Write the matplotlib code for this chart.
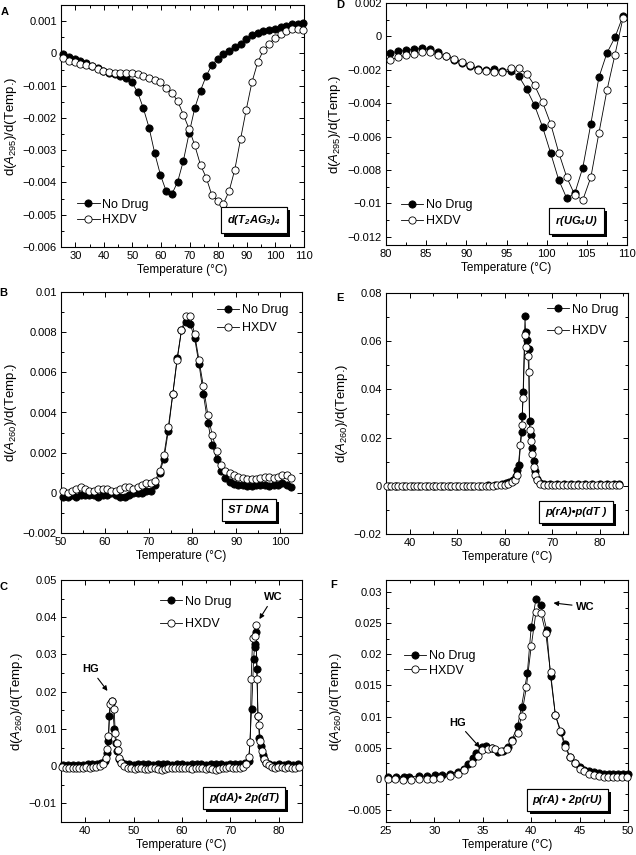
import numpy as np
import matplotlib
matplotlib.use("Agg")
import matplotlib.pyplot as plt
import matplotlib.patheffects as pe
from matplotlib.ticker import MultipleLocator, FuncFormatter

plt.rcParams['font.family'] = ['Liberation Sans', 'DejaVu Sans']
plt.rcParams['mathtext.fontset'] = 'custom'
plt.rcParams['mathtext.rm'] = 'Liberation Sans'
plt.rcParams['mathtext.it'] = 'Liberation Sans:italic'
plt.rcParams['mathtext.bf'] = 'Liberation Sans:bold'
plt.rcParams['mathtext.bfit'] = 'Liberation Sans:bold:italic'

# ---------------- panel A : d(T2AG3)4 ----------------
a_temp = [25.8, 27.8, 29.8, 31.8, 33.8, 35.8, 37.8, 39.8, 41.8, 43.8,
          45.8, 47.8, 49.8, 51.8, 53.8, 55.8, 57.8, 59.8, 61.8, 63.8,
          65.8, 67.8, 69.8, 71.8, 73.8, 75.8, 77.8, 79.8, 81.8, 83.8,
          85.8, 87.8, 89.8, 91.8, 93.8, 95.8, 97.8, 99.8, 101.8, 103.8,
          105.8, 107.8, 109.8]
a_nodrug = [-0.00002, -0.0001, -0.00018, -0.00025, -0.0003, -0.00038, -0.00046, -0.00054, -0.0006, -0.00065,
            -0.0007, -0.00077, -0.0009, -0.0012, -0.0017, -0.0023, -0.0031, -0.00377, -0.00427, -0.00436,
            -0.00398, -0.00333, -0.00248, -0.00169, -0.00115, -0.0007, -0.00035, -0.00018, -0.00003, 0.00008,
            0.00019, 0.0003, 0.00045, 0.00057, 0.00064, 0.00069, 0.00073, 0.00076, 0.00081, 0.00085,
            0.0009, 0.00092, 0.00094]
a_hxdv = [-0.00015, -0.00023, -0.00028, -0.00033, -0.00036, -0.0004, -0.00049, -0.00054, -0.00057, -0.0006,
          -0.0006, -0.0006, -0.0006, -0.00063, -0.0007, -0.00075, -0.00082, -0.0009, -0.00108, -0.00122,
          -0.00148, -0.0019, -0.00234, -0.00285, -0.00346, -0.00385, -0.0044, -0.00457, -0.00466, -0.00427,
          -0.0036, -0.00266, -0.00174, -0.00089, -0.00028, 0.0001, 0.0003, 0.00048, 0.0006, 0.00069,
          0.00075, 0.00075, 0.00073]

# ---------------- panel D : r(UG4U) ----------------
d_temp = [80.5, 81.5, 82.5, 83.5, 84.5, 85.5, 86.5, 87.5, 88.5, 89.5,
          90.5, 91.5, 92.5, 93.5, 94.5, 95.5, 96.5, 97.5, 98.5, 99.5,
          100.5, 101.5, 102.5, 103.5, 104.5, 105.5, 106.5, 107.5, 108.5, 109.5]
d_nodrug = [-0.001, -0.0009, -0.00084, -0.00076, -0.00072, -0.00078, -0.00096, -0.00116, -0.0014, -0.0016,
            -0.0018, -0.00196, -0.002, -0.00196, -0.0021, -0.0021, -0.00236, -0.00316, -0.00414, -0.00544,
            -0.007, -0.0086, -0.0097, -0.0094, -0.00786, -0.00524, -0.00246, -0.001, -0.00006, 0.00122]
d_hxdv = [-0.00144, -0.00124, -0.00114, -0.00104, -0.00094, -0.00096, -0.00114, -0.0012, -0.00136, -0.00154,
          -0.0017, -0.002, -0.0021, -0.00216, -0.00214, -0.0019, -0.0019, -0.00224, -0.00294, -0.00396,
          -0.00524, -0.00696, -0.00844, -0.0095, -0.0098, -0.00844, -0.0058, -0.00324, -0.0011, 0.0011]

# ---------------- panel B : ST DNA ----------------
b_temp = [50.5, 51.5, 52.5, 53.5, 54.5, 55.5, 56.5, 57.5, 58.5, 59.5,
          60.5, 61.5, 62.5, 63.5, 64.5, 65.5, 66.5, 67.5, 68.5, 69.5,
          70.5, 71.5, 72.5, 73.5, 74.5, 75.5, 76.5, 77.5, 78.5, 79.5,
          80.5, 81.5, 82.5, 83.5, 84.5, 85.5, 86.5, 87.5, 88.5, 89.5,
          90.5, 91.5, 92.5, 93.5, 94.5, 95.5, 96.5, 97.5, 98.5, 99.5,
          100.5, 101.5, 102.5]
b_nodrug = [-0.0002, -0.0002, -0.0001, -0.0002, -0.0001, -0.0001, -0.0001, -0.0001, -0.0002, -0.0001,
            -0.0001, 0.0, -0.0001, -0.0002, -0.0002, -0.0001, 0.0, 0.0, 0.0, 0.0001,
            0.0001, 0.0004, 0.001, 0.0017, 0.0031, 0.0049, 0.0067, 0.0081, 0.0085, 0.0084,
            0.0077, 0.0064, 0.0049, 0.0035, 0.0024, 0.0017, 0.0011, 0.00075, 0.00055, 0.00045,
            0.0004, 0.0004, 0.00035, 0.00035, 0.0004, 0.0004, 0.0004, 0.00035, 0.0004, 0.0004,
            0.0005, 0.0004, 0.0003]
b_hxdv = [0.0001, 0.0, 0.0001, 0.0002, 0.0003, 0.0002, 0.0001, 0.0001, 0.0002, 0.0002,
          0.0002, 0.0001, 0.0001, 0.0002, 0.0003, 0.0003, 0.0002, 0.0003, 0.0004, 0.0005,
          0.0005, 0.0006, 0.0011, 0.0019, 0.0033, 0.0049, 0.0066, 0.0081, 0.0088, 0.0088,
          0.0079, 0.0066, 0.0053, 0.0039, 0.0029, 0.0021, 0.0014, 0.0011, 0.001, 0.0009,
          0.0008, 0.00075, 0.0007, 0.0007, 0.0007, 0.00075, 0.0008, 0.0008, 0.00075, 0.0008,
          0.0009, 0.0009, 0.00075]

# ---------------- panel E : p(rA)*p(dT) ----------------
e_temp_nodrug = [35.6, 37.2, 38.8, 40.4, 42.0, 43.6, 45.2, 46.8, 48.4, 50.0,
                 51.6, 53.2, 54.8, 56.4, 58.0, 59.4,
                 60.2, 61.0, 61.7, 62.3, 62.7, 63.0, 63.6, 63.7, 63.9, 64.3,
                 64.4, 64.8, 65.1, 65.25, 65.5, 65.8, 66.1, 66.4, 66.8, 67.5, 68.3,
                 69.5, 71.0, 72.5, 74.0, 75.5, 77.0, 78.5, 80.0, 81.5, 83.0, 84.2]
e_nodrug = [0.0, 0.0, 0.0, 0.0, 0.0, 0.0, 0.0, 0.0, 0.0, 0.0,
            0.0, 0.0001, 0.0001, 0.0002, 0.0003, 0.0006,
            0.001, 0.0016, 0.0025, 0.004, 0.0065, 0.0085, 0.0225, 0.0288, 0.039, 0.0703,
            0.064, 0.0606, 0.0567, 0.0267, 0.0212, 0.0156, 0.0101, 0.006, 0.003, 0.0012, 0.0006,
            0.0006, 0.0007, 0.0008, 0.0008, 0.0008, 0.0007, 0.0008, 0.0008, 0.0007, 0.0008, 0.0008]
e_temp_hxdv = [35.2, 36.0, 36.8, 37.6, 38.4, 39.2, 40.0, 40.8, 41.6, 42.4,
               43.2, 44.0, 44.8, 45.6, 46.4, 47.2, 48.0, 48.8, 49.6, 50.4,
               51.2, 52.0, 52.8, 53.6, 54.4, 55.2, 56.0, 56.8, 57.6, 58.4, 59.2,
               60.0, 60.8, 61.5, 62.2, 62.7, 63.3, 63.6, 63.9, 64.3, 64.6,
               64.9, 65.1, 65.25, 65.5, 65.8, 66.1, 66.4, 66.8, 67.5, 68.3,
               69.1, 69.9, 70.7, 71.5, 72.3, 73.1, 73.9, 74.7, 75.5, 76.3,
               77.1, 77.9, 78.7, 79.5, 80.3, 81.1, 81.9, 82.7, 83.5, 84.2]
e_hxdv = [0.0, 0.0, 0.0, 0.0, 0.0, 0.0, 0.0, 0.0, 0.0, 0.0,
          0.0, 0.0, 0.0, 0.0, 0.0, 0.0, 0.0, 0.0, 0.0, 0.0,
          0.0, 0.0, 0.0, 0.0, 0.0, 0.0, 0.0001, 0.0001, 0.0001, 0.0002, 0.0003,
          0.0005, 0.0009, 0.0015, 0.0025, 0.0046, 0.017, 0.0253, 0.0364, 0.0627, 0.0574,
          0.054, 0.0474, 0.0232, 0.0184, 0.0131, 0.008, 0.0046, 0.0025, 0.0008, 0.0003,
          0.0002, 0.0003, 0.0003, 0.0004, 0.0004, 0.0004, 0.0005, 0.0004, 0.0004, 0.0005,
          0.0005, 0.0004, 0.0004, 0.0005, 0.0004, 0.0004, 0.0005, 0.0005, 0.0004, 0.0005]

# ---------------- panel C : p(dA)*2p(dT) ----------------
c_temp_nodrug = [35.5, 36.5, 37.5, 38.5, 39.5, 40.5, 41.5, 42.5,
                 43.3, 44.0, 44.5, 44.8, 45.0, 45.3, 45.6, 46.0, 46.3, 46.6, 47.0, 47.5, 48.2,
                 49.0, 50.0, 51.0, 52.0, 53.0, 54.0, 55.0, 56.0, 57.0, 58.0, 59.0, 60.0, 61.0,
                 62.0, 63.0, 64.0, 65.0, 66.0, 67.0, 68.0, 69.0, 70.0, 71.0, 72.0, 73.0,
                 73.8, 74.4, 74.8, 75.0, 75.1, 75.3, 75.5, 75.7, 76.0, 76.3, 76.7, 77.0, 77.4,
                 78.0, 79.0, 80.0, 81.0, 82.0, 83.0, 84.0]
c_nodrug = [0.0002, 0.0003, 0.0003, 0.0004, 0.0004, 0.0005, 0.0005, 0.0006,
            0.0009, 0.0015, 0.0035, 0.0067, 0.0134, 0.017, 0.0174, 0.01, 0.0062, 0.004, 0.002, 0.001, 0.0006,
            0.0005, 0.0004, 0.0005, 0.0006, 0.0005, 0.0004, 0.0005, 0.0005, 0.0006, 0.0004, 0.0005, 0.0005, 0.0004,
            0.0005, 0.0006, 0.0005, 0.0004, 0.0005, 0.0006, 0.0005, 0.0004, 0.0005, 0.0006, 0.0007, 0.0008,
            0.0013, 0.0154, 0.0289, 0.0321, 0.0327, 0.0359, 0.026, 0.0135, 0.0076, 0.0054, 0.0031, 0.0018, 0.0009,
            0.0005, 0.0004, 0.0005, 0.0004, 0.0005, 0.0004, 0.0005]
c_temp_hxdv = [35.3, 36.0, 36.7, 37.4, 38.1, 38.8, 39.5, 40.2, 40.9, 41.6,
               42.3, 43.0, 43.7, 44.3, 44.6, 44.8, 45.1, 45.6, 46.0, 46.2,
               46.5, 46.7, 47.0, 47.5, 48.1, 48.8, 49.5, 50.2, 50.9, 51.6,
               52.3, 53.0, 53.7, 54.4, 55.1, 55.8, 56.5, 57.2, 57.9, 58.6,
               59.3, 60.0, 60.7, 61.4, 62.1, 62.8, 63.5, 64.2, 64.9, 65.6,
               66.3, 67.0, 67.7, 68.4, 69.1, 69.8, 70.5, 71.2, 71.9, 72.6,
               73.3, 73.8, 74.1, 74.3, 74.6, 75.0, 75.3, 75.5, 75.7, 75.9,
               76.2, 76.6, 77.0, 77.4, 77.9, 78.5, 79.2, 79.9, 80.6, 81.3,
               82.0, 82.7, 83.4, 84.1]
c_hxdv = [-0.0003, -0.0004, -0.0005, -0.0006, -0.0006, -0.0005, -0.0004, -0.0003, -0.0004, -0.0003,
          -0.0002, 0.0, 0.0006, 0.0022, 0.0045, 0.008, 0.0166, 0.0176, 0.0154, 0.0088,
          0.0063, 0.0043, 0.0021, 0.0008, 0.0001, -0.0004, -0.0006, -0.0007, -0.0005, -0.0006,
          -0.0008, -0.0007, -0.0005, -0.0006, -0.0008, -0.0009, -0.0007, -0.0006, -0.0005, -0.0006,
          -0.0005, -0.0004, -0.0005, -0.0006, -0.0007, -0.0005, -0.0004, -0.0006, -0.0007, -0.0006,
          -0.0008, -0.0009, -0.0008, -0.0006, -0.0004, -0.0003, -0.0005, -0.0006, -0.0004, -0.0002,
          0.0005, 0.0025, 0.0065, 0.0235, 0.0345, 0.035, 0.0379, 0.0233, 0.0136, 0.011,
          0.0067, 0.004, 0.0018, 0.0009, 0.0002, -0.0002, -0.0004, -0.0003, -0.0002, -0.0004,
          -0.0003, -0.0005, -0.0006, -0.0003]

# ---------------- panel F : p(rA)*2p(rU) ----------------
f_temp_nodrug = [25.2, 26.0, 26.9, 27.4, 28.4, 29.2, 30.1, 30.8,
                 31.6, 32.4, 33.1, 33.5, 34.0, 34.3, 34.9, 35.3, 35.9, 36.6, 37.1, 37.6, 38.0,
                 38.6, 39.0, 39.6, 40.0, 40.5, 41.0, 41.6, 42.0, 42.5, 43.1, 43.5, 44.0,
                 44.5, 45.0, 45.5, 46.0, 46.5, 47.0, 47.5, 48.0, 48.5, 49.0, 49.5, 50.0]
f_nodrug = [0.0002, 0.0003, 0.0003, 0.0003, 0.0004, 0.0004, 0.0005, 0.0006,
            0.0008, 0.0011, 0.0016, 0.0024, 0.0033, 0.0042, 0.0051, 0.0052, 0.005, 0.0043, 0.0045, 0.0051, 0.0062,
            0.0085, 0.0116, 0.017, 0.0244, 0.029, 0.028, 0.024, 0.0165, 0.0102, 0.0075, 0.0055, 0.0035,
            0.0025, 0.0018, 0.0014, 0.0012, 0.001, 0.0009, 0.0008, 0.0008, 0.0008, 0.0008, 0.0008, 0.0007]
f_temp_hxdv = [25.2, 25.9, 26.8, 27.6, 28.4, 29.2, 29.9, 30.6,
               31.6, 32.4, 33.1, 33.9, 34.5, 34.9, 35.5, 35.9, 36.3, 36.9, 37.5, 38.0,
               38.6, 39.0, 39.5, 40.0, 40.5, 41.0, 41.5, 42.0, 42.5, 43.0, 43.5, 44.0,
               44.5, 45.0, 45.5, 46.0, 46.5, 47.0, 47.5, 47.9, 48.4, 48.9, 49.4, 49.9]
f_hxdv = [0.0, -0.0001, -0.00016, -0.00016, -0.0001, -0.00005, 0.0, 0.00016,
          0.0004, 0.0007, 0.0013, 0.0025, 0.0036, 0.0046, 0.0048, 0.005, 0.0048, 0.0044, 0.0048, 0.0061,
          0.0074, 0.0101, 0.0147, 0.0213, 0.0269, 0.0267, 0.0235, 0.0171, 0.0102, 0.0076, 0.0051, 0.0034,
          0.0025, 0.0016, 0.0012, 0.0008, 0.0006, 0.0004, 0.0003, 0.0003, 0.0002, 0.0002, 0.0002, 0.0002]

series_labels = ['No Drug', 'HXDV']
W, H = 636, 855


def fmt(v, pos):
    if abs(v) < 1e-12:
        return '0'
    return ('%g' % v).replace('-', '\u2212')


def panel(box, letter, letter_xy, t1, y1, t2, y2, xlim, ylim, xmaj, xmin, ymaj, ymin,
          ylab, tag, tag_xy, leg_xy, leg_space):
    x0, y0, x1, y1p = box
    ax = fig.add_axes([x0 / W, 1 - y1p / H, (x1 - x0) / W, (y1p - y0) / H])
    ax.plot(t1, y1, '-o', color='black', lw=0.6, ms=5.2, mfc='black', mec='black',
            mew=0.6, label=series_labels[0], clip_on=False, zorder=3)
    ax.plot(t2, y2, '-o', color='black', lw=0.6, ms=5.2, mfc='white', mec='black',
            mew=0.6, label=series_labels[1], clip_on=False, zorder=4)
    ax.set_xlim(*xlim)
    ax.set_ylim(*ylim)
    ax.xaxis.set_major_locator(MultipleLocator(xmaj))
    ax.xaxis.set_minor_locator(MultipleLocator(xmin))
    ax.yaxis.set_major_locator(MultipleLocator(ymaj))
    ax.yaxis.set_minor_locator(MultipleLocator(ymin))
    ax.yaxis.set_major_formatter(FuncFormatter(fmt))
    ax.tick_params(which='both', direction='in', top=True, right=True, labelsize=8, width=0.7)
    ax.tick_params(which='major', length=3.5, pad=3)
    ax.tick_params(which='minor', length=2)
    for s in ax.spines.values():
        s.set_linewidth(0.8)
    ax.set_xlabel('Temperature (\u00b0C)', fontsize=8.5, labelpad=2)
    ax.set_ylabel(ylab, fontsize=9.5, labelpad=3)
    t = ax.text(tag_xy[0], tag_xy[1], tag, transform=ax.transAxes, ha='center', va='center',
                fontsize=8, fontweight='bold', fontstyle='italic', zorder=6,
                bbox=dict(boxstyle='square,pad=0.55', fc='white', ec='black', lw=0.8))
    t.get_bbox_patch().set_path_effects([
        pe.withSimplePatchShadow(offset=(2.2, -2.2), shadow_rgbFace='black', alpha=1.0),
        pe.Normal()])
    ax.legend(loc='upper left', bbox_to_anchor=leg_xy, frameon=False, fontsize=9,
              handlelength=1.8, handletextpad=0.2, borderpad=0, borderaxespad=0,
              labelspacing=leg_space, numpoints=1)
    fig.text(letter_xy[0] / W, 1 - letter_xy[1] / H, letter, fontsize=8, fontweight='bold',
             ha='center', va='center')
    return ax


fig = plt.figure(figsize=(6.36, 8.55), dpi=100)

ylab295 = r'd($\mathit{A}_{295}$)/d(Temp.)'
ylab260 = r'd($\mathit{A}_{260}$)/d(Temp.)'

panel((61, 5, 304, 247), 'A', (5, 12), a_temp, a_nodrug, a_temp, a_hxdv,
      (25, 110), (-0.006, 0.0015), 10, 5, 0.001, 0.0005, ylab295,
      r'$\mathbfit{d(T_2AG_3)_4}$', (0.795, 0.11), (0.066, 0.20), 0.3)

panel((386, 3, 627, 245), 'D', (340, 5), d_temp, d_nodrug, d_temp, d_hxdv,
      (80, 110), (-0.0125, 0.002), 5, 2.5, 0.002, 0.001, ylab295,
      r'$\mathbfit{r(UG_4U)}$', (0.79, 0.10), (0.062, 0.19), 0.35)

panel((61, 292, 302, 533), 'B', (3, 293), b_temp, b_nodrug, b_temp, b_hxdv,
      (50, 105), (-0.002, 0.01), 10, 5, 0.002, 0.001, ylab260,
      'ST DNA', (0.78, 0.095), (0.647, 0.95), 0.5)

panel((386, 293, 628, 534), 'E', (340, 298), e_temp_nodrug, e_nodrug, e_temp_hxdv, e_hxdv,
      (35, 86), (-0.02, 0.08), 10, 5, 0.02, 0.01, ylab260,
      'p(rA)\u2022p(dT )', (0.785, 0.09), (0.665, 0.955), 0.75)

axc = panel((61, 580, 302, 822), 'C', (4, 587), c_temp_nodrug, c_nodrug, c_temp_hxdv, c_hxdv,
            (35, 84.8), (-0.015, 0.05), 10, 5, 0.01, 0.005, ylab260,
            'p(dA)\u2022 2p(dT)', (0.76, 0.10), (0.41, 0.935), 0.85)

axf = panel((386, 580, 628, 822), 'F', (334, 585), f_temp_nodrug, f_nodrug, f_temp_hxdv, f_hxdv,
            (25, 50), (-0.007, 0.032), 5, 2.5, 0.005, 0.0025, ylab260,
            'p(rA) \u2022 2p(rU)', (0.75, 0.09), (0.074, 0.71), 0.2)

arrow = dict(arrowstyle='-|>', color='black', lw=0.8, mutation_scale=7, shrinkA=1, shrinkB=0)
axc.annotate('HG', xy=(44.6, 0.0202), xytext=(41.2, 0.026), fontsize=8, fontweight='bold',
             ha='center', va='center', arrowprops=arrow)
axc.annotate('WC', xy=(76.0, 0.0395), xytext=(78.8, 0.0453), fontsize=8, fontweight='bold',
             ha='center', va='center', arrowprops=arrow)
axf.annotate('HG', xy=(34.7, 0.005), xytext=(32.4, 0.009), fontsize=8, fontweight='bold',
             ha='center', va='center', arrowprops=arrow)
axf.annotate('WC', xy=(42.3, 0.0283), xytext=(45.6, 0.0277), fontsize=8, fontweight='bold',
             ha='center', va='center', arrowprops=arrow)

fig.savefig('out.png', dpi=100)
